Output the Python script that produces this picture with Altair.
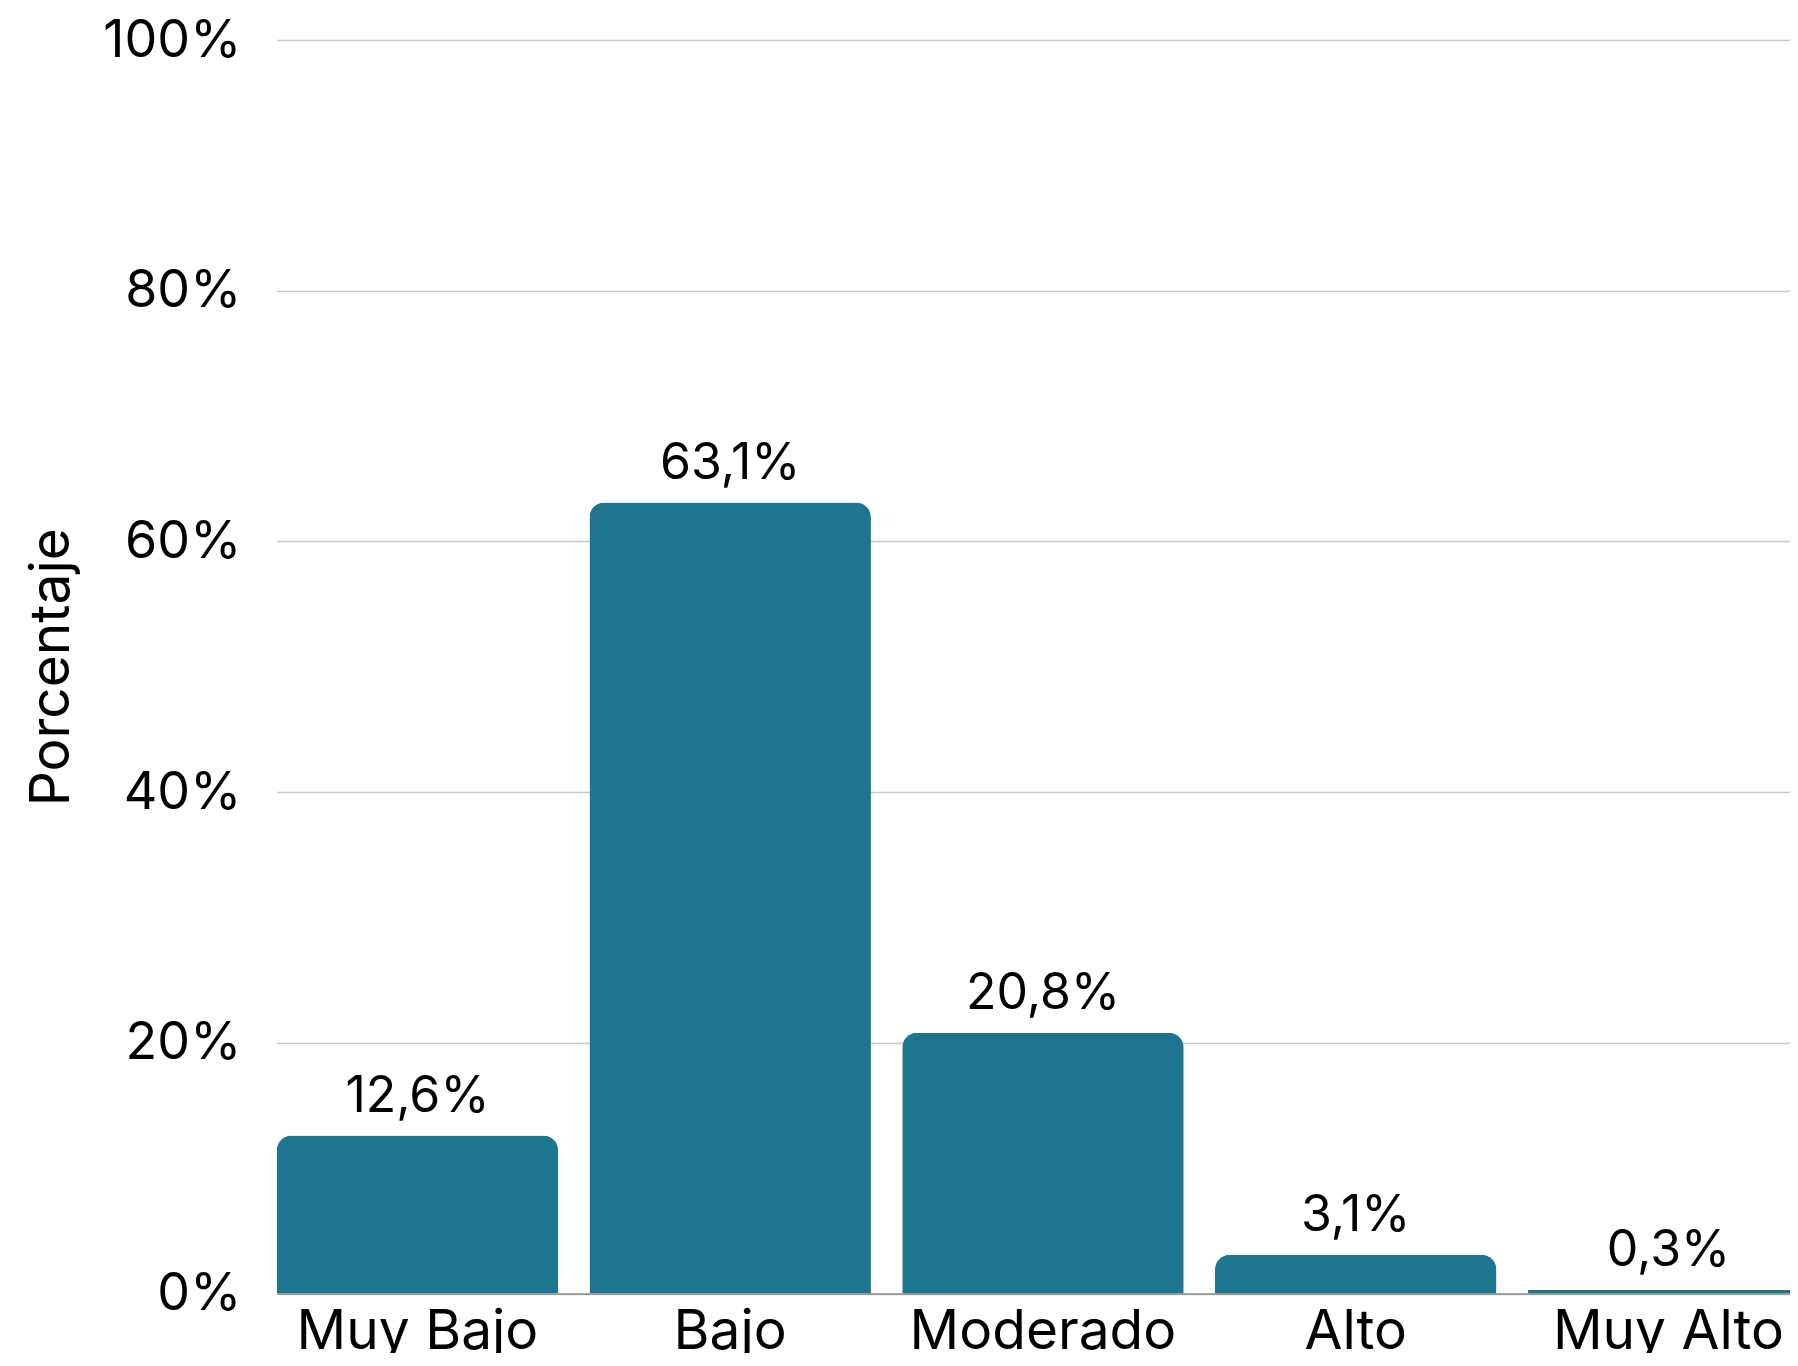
import altair as alt
import pandas as pd

categories = ["Muy Bajo", "Bajo", "Moderado", "Alto", "Muy Alto"]
values = [12.6, 63.1, 20.8, 3.1, 0.3]
y_ticks = [0, 20, 40, 60, 80, 100]

labels = [f"{v:.1f}".replace(".", ",") + "%" for v in values]
df = pd.DataFrame({"cat": categories, "val": values, "lab": labels})

FONT = "Inter"
BAR = "#1D758F"

PLOT_H = 1253.5
RANGE_W = 1532.5
PAD_L = 268.7
PAD_T = 32
TOTAL_W = 1782
TOTAL_H = 1345
W = TOTAL_W - PAD_L
H = PLOT_H

x = alt.X("cat:N", sort=categories,
          scale=alt.Scale(range=[0, RANGE_W], paddingInner=0.1, paddingOuter=0),
          axis=alt.Axis(title=None, labelAngle=0, ticks=False, labelPadding=12,
                        labelLimit=0, labelFontSize=55, labelFont=FONT,
                        labelColor="#000000",
                        domainColor="#8a8a8a", domainWidth=1.5, grid=False))
y = alt.Y("val:Q", scale=alt.Scale(domain=[0, 100], nice=False),
          axis=alt.Axis(title="Porcentaje", values=y_ticks, labelExpr="datum.value + '%'",
                        ticks=False, domain=False, labelPadding=36, labelLimit=0,
                        labelFontSize=52, labelFont=FONT, labelColor="#000000",
                        gridColor="#c8c8c8", gridWidth=1.5,
                        titleFont=FONT, titleFontSize=55, titleFontWeight="normal",
                        titleColor="#000000", titleX=-208.7, titleY=PLOT_H / 2,
                        titleAngle=270, titleAlign="center", titleBaseline="alphabetic"))

bars = alt.Chart(df).mark_bar(color=BAR, cornerRadiusTopLeft=15,
                              cornerRadiusTopRight=15).encode(x=x, y=y)
text = alt.Chart(df).mark_text(font=FONT, fontSize=50, color="#000000",
                               baseline="alphabetic", align="center", dy=-24).encode(
    x=alt.X("cat:N", sort=categories), y="val:Q", text="lab:N")

chart = (bars + text).properties(
    width=W, height=H,
    autosize=alt.AutoSizeParams(type="none"),
    padding={"left": PAD_L, "top": PAD_T, "right": 0, "bottom": TOTAL_H - PAD_T - H},
).configure_view(stroke=None)

chart.save("out.html", embed_options={"renderer": "svg", "actions": False})
